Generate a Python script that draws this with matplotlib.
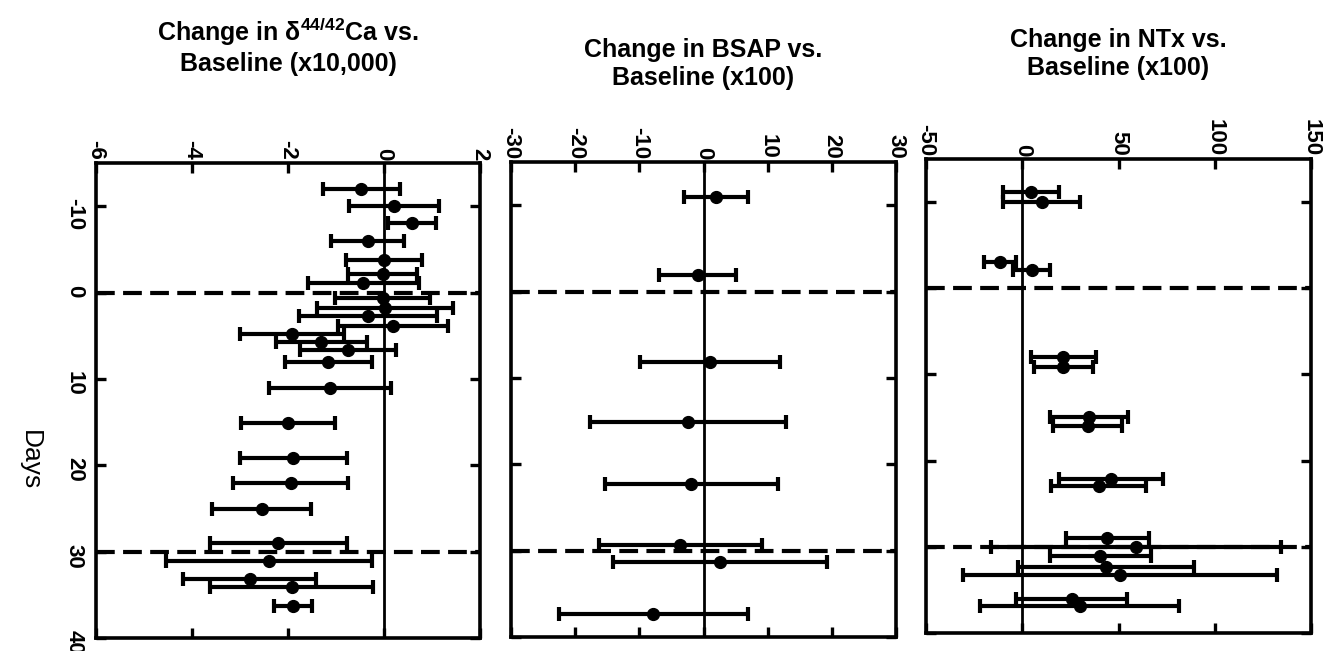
import matplotlib
matplotlib.use("Agg")
import matplotlib.pyplot as plt

plt.rcParams['font.family'] = ['Liberation Sans', 'DejaVu Sans']
plt.rcParams['mathtext.fontset'] = 'custom'
plt.rcParams['mathtext.rm'] = 'Liberation Sans'
plt.rcParams['mathtext.bf'] = 'Liberation Sans:bold'
plt.rcParams['axes.unicode_minus'] = False

# ---- data ----
ca_days = [-12, -10, -8, -6, -3.8, -2.2, -1.1, 0.6, 1.8, 2.7, 3.9, 4.85, 5.7, 6.6, 8.0,
           11.0, 15.1, 19.2, 22.1, 25.1, 29.0, 31.1, 33.2, 34.1, 36.3]
ca_mean = [-0.47, 0.21, 0.58, -0.34, 0.0, -0.03, -0.43, -0.03, 0.02, -0.34, 0.19, -1.92,
           -1.31, -0.75, -1.16, -1.12, -2.0, -1.89, -1.94, -2.55, -2.2, -2.4, -2.8, -1.92, -1.9]
ca_err = [0.8, 0.93, 0.5, 0.76, 0.8, 0.71, 1.15, 0.99, 1.42, 1.44, 1.15, 1.08, 0.95, 1.0,
          0.9, 1.27, 0.97, 1.12, 1.2, 1.03, 1.43, 2.14, 1.38, 1.7, 0.4]

bsap_days = [-11.0, -1.9, 8.1, 15.1, 22.3, 29.3, 31.3, 37.3]
bsap_mean = [2.0, -0.9, 1.0, -2.4, -1.9, -3.6, 2.6, -7.8]
bsap_err = [5.0, 6.0, 10.9, 15.3, 13.5, 12.7, 16.7, 14.7]

ntx_days = [-11.2, -10.0, -3.05, -2.1, 8.0, 9.1, 14.9, 16.0, 22.1, 23.0, 29.0, 30.0,
            31.1, 32.3, 33.3, 36.0, 36.9]
ntx_mean = [4.7, 10.0, -11.5, 5.0, 21.4, 21.4, 34.5, 34.0, 46.0, 39.8, 44.2, 59.2, 40.6,
            43.3, 50.7, 25.7, 29.8]
ntx_err = [14.5, 20.0, 8.4, 9.6, 16.7, 15.3, 20.3, 17.8, 27.1, 24.7, 21.7, 75.3, 26.4,
           45.7, 81.7, 28.8, 51.5]

titles = [r"Change in δ$^{\mathbf{44/42}}$Ca vs." + "\nBaseline (x10,000)",
          "Change in BSAP vs.\nBaseline (x100)",
          "Change in NTx vs.\nBaseline (x100)"]
xlims = [(-6, 2), (-30, 30), (-50, 150)]
xticks = [[-6, -4, -2, 0, 2], [-30, -20, -10, 0, 10, 20, 30], [-50, 0, 50, 100, 150]]
day_ticks = [-10, 0, 10, 20, 30, 40]
marker_days = [0, 30]

W, H = 1326, 651
fig = plt.figure(figsize=(W / 100, H / 100), dpi=100)

boxes = [(96, 480, 163, 638), (511, 896, 162, 637), (926, 1311, 159, 633)]
title_y = [46, 64, 54]

series = [(ca_days, ca_mean, ca_err), (bsap_days, bsap_mean, bsap_err),
          (ntx_days, ntx_mean, ntx_err)]

for i, ((l, r, t, b), (d, m, e)) in enumerate(zip(boxes, series)):
    ax = fig.add_axes([l / W, 1 - b / H, (r - l) / W, (b - t) / H])
    ax.axvline(0, color='black', lw=2.0, zorder=1)
    for md in marker_days:
        ax.axhline(md, color='black', lw=3.0, dashes=(4.5, 2.0), zorder=1)
    ax.errorbar(m, d, xerr=e, fmt='o', color='black', ms=8.5, elinewidth=3.0,
                capsize=5, capthick=3.0, zorder=3)
    ax.set_xlim(*xlims[i])
    ax.set_ylim(40, -15)
    ax.set_xticks(xticks[i])
    ax.set_yticks(day_ticks)
    for s in ax.spines.values():
        s.set_linewidth(2.6)
    ax.tick_params(axis='x', top=True, bottom=True, labeltop=True, labelbottom=False,
                   direction='in', length=7, width=2.4, labelsize=16, pad=2,
                   labelrotation=-90)
    ax.tick_params(axis='y', left=True, right=True, labelleft=(i == 0), labelright=False,
                   direction='in', length=7, width=2.4, labelsize=16, pad=8,
                   labelrotation=-90)
    for lab in ax.get_xticklabels() + ax.get_yticklabels():
        lab.set_fontweight('bold')
    fig.text((l + r) / 2 / W, 1 - title_y[i] / H, titles[i], ha='center', va='center',
             fontsize=18, fontweight='bold', linespacing=1.2)

fig.text(30 / W, 1 - 460 / H, "Days", rotation=-90, ha='center', va='center', fontsize=19)

fig.savefig("out.png", dpi=100)
